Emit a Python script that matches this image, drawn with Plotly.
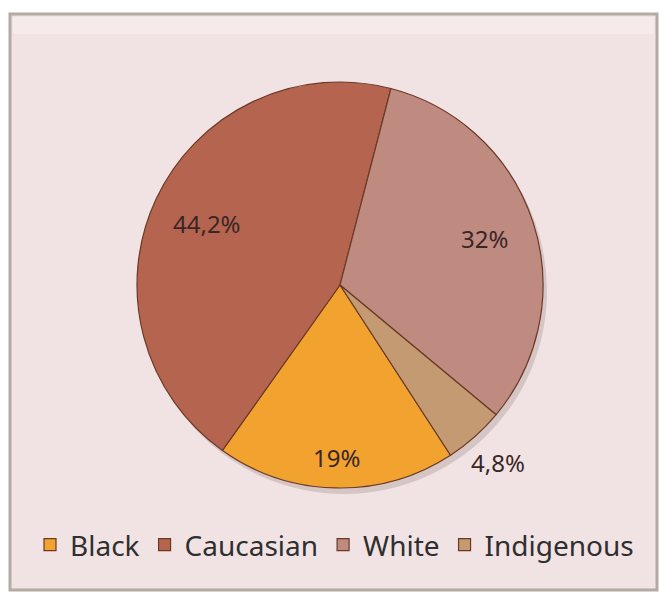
import math
import plotly.graph_objects as go

labels = ["Black", "Caucasian", "White", "Indigenous"]
values = [19.0, 44.2, 32.0, 4.8]
text_labels = ["19%", "44,2%", "32%", "4,8%"]

colors = ["#f2a22e", "#b5654f", "#bf8a80", "#c49a72"]
label_radius = [0.85, 0.72, 0.75, 1.17]  # label distance as fraction of pie radius

W, H = 659, 593
ROT = 147
# pie domain (paper)
dom_x = [137 / W, 543 / W]
dom_y = [(H - 488) / H, (H - 82) / H]
cx = (dom_x[0] + dom_x[1]) / 2
cy = (dom_y[0] + dom_y[1]) / 2
R_px = min((dom_x[1] - dom_x[0]) * W, (dom_y[1] - dom_y[0]) * H) / 2

fig = go.Figure()
fig.add_trace(go.Pie(
    labels=labels,
    values=values,
    textinfo="none",
    sort=False,
    direction="clockwise",
    rotation=ROT,
    marker=dict(colors=colors, line=dict(color="#6b3a26", width=1.2)),
    domain=dict(x=dom_x, y=dom_y),
    hoverinfo="label+percent",
))

# data labels placed at each slice's mid-angle (derived from values)
total = sum(values)
annotations = []
start = ROT
for val, txt, rf in zip(values, text_labels, label_radius):
    sweep = 360 * val / total
    mid = math.radians(start + sweep / 2)
    start += sweep
    ax = cx + R_px * rf * math.sin(mid) / W
    ay = cy + R_px * rf * math.cos(mid) / H
    annotations.append(dict(
        x=ax, y=ay, xref="paper", yref="paper", text=txt, showarrow=False,
        xanchor="center", yanchor="middle",
        font=dict(family="Noto Sans", size=24, color="#3a2626"),
    ))

shadow_dx, shadow_dy = 4 / W, -6 / H
fig.update_layout(
    width=W, height=H,
    margin=dict(l=0, r=0, t=0, b=0),
    paper_bgcolor="white",
    plot_bgcolor="white",
    showlegend=True,
    annotations=annotations,
    legend=dict(
        orientation="h",
        x=30 / W, y=(H - 545) / H, xanchor="left", yanchor="middle",
        font=dict(family="Noto Sans", size=28, color="#2f2f2f"),
        bgcolor="rgba(0,0,0,0)",
        traceorder="normal",
    ),
    shapes=[
        dict(type="rect", xref="paper", yref="paper",
             x0=10 / W, x1=657 / W, y0=(H - 590) / H, y1=(H - 14) / H,
             fillcolor="#f1e3e3", line=dict(color="#b3aba3", width=3),
             layer="below"),
        dict(type="rect", xref="paper", yref="paper",
             x0=13 / W, x1=654 / W, y0=(H - 34) / H, y1=(H - 17) / H,
             fillcolor="rgba(255,255,255,0.3)", line=dict(width=0),
             layer="below"),
        dict(type="circle", xref="paper", yref="paper",
             x0=cx - R_px / W + shadow_dx, x1=cx + R_px / W + shadow_dx,
             y0=cy - R_px / H + shadow_dy, y1=cy + R_px / H + shadow_dy,
             fillcolor="rgba(120,90,90,0.22)", line=dict(width=0),
             layer="below"),
    ],
)

fig.write_html("out.html")
